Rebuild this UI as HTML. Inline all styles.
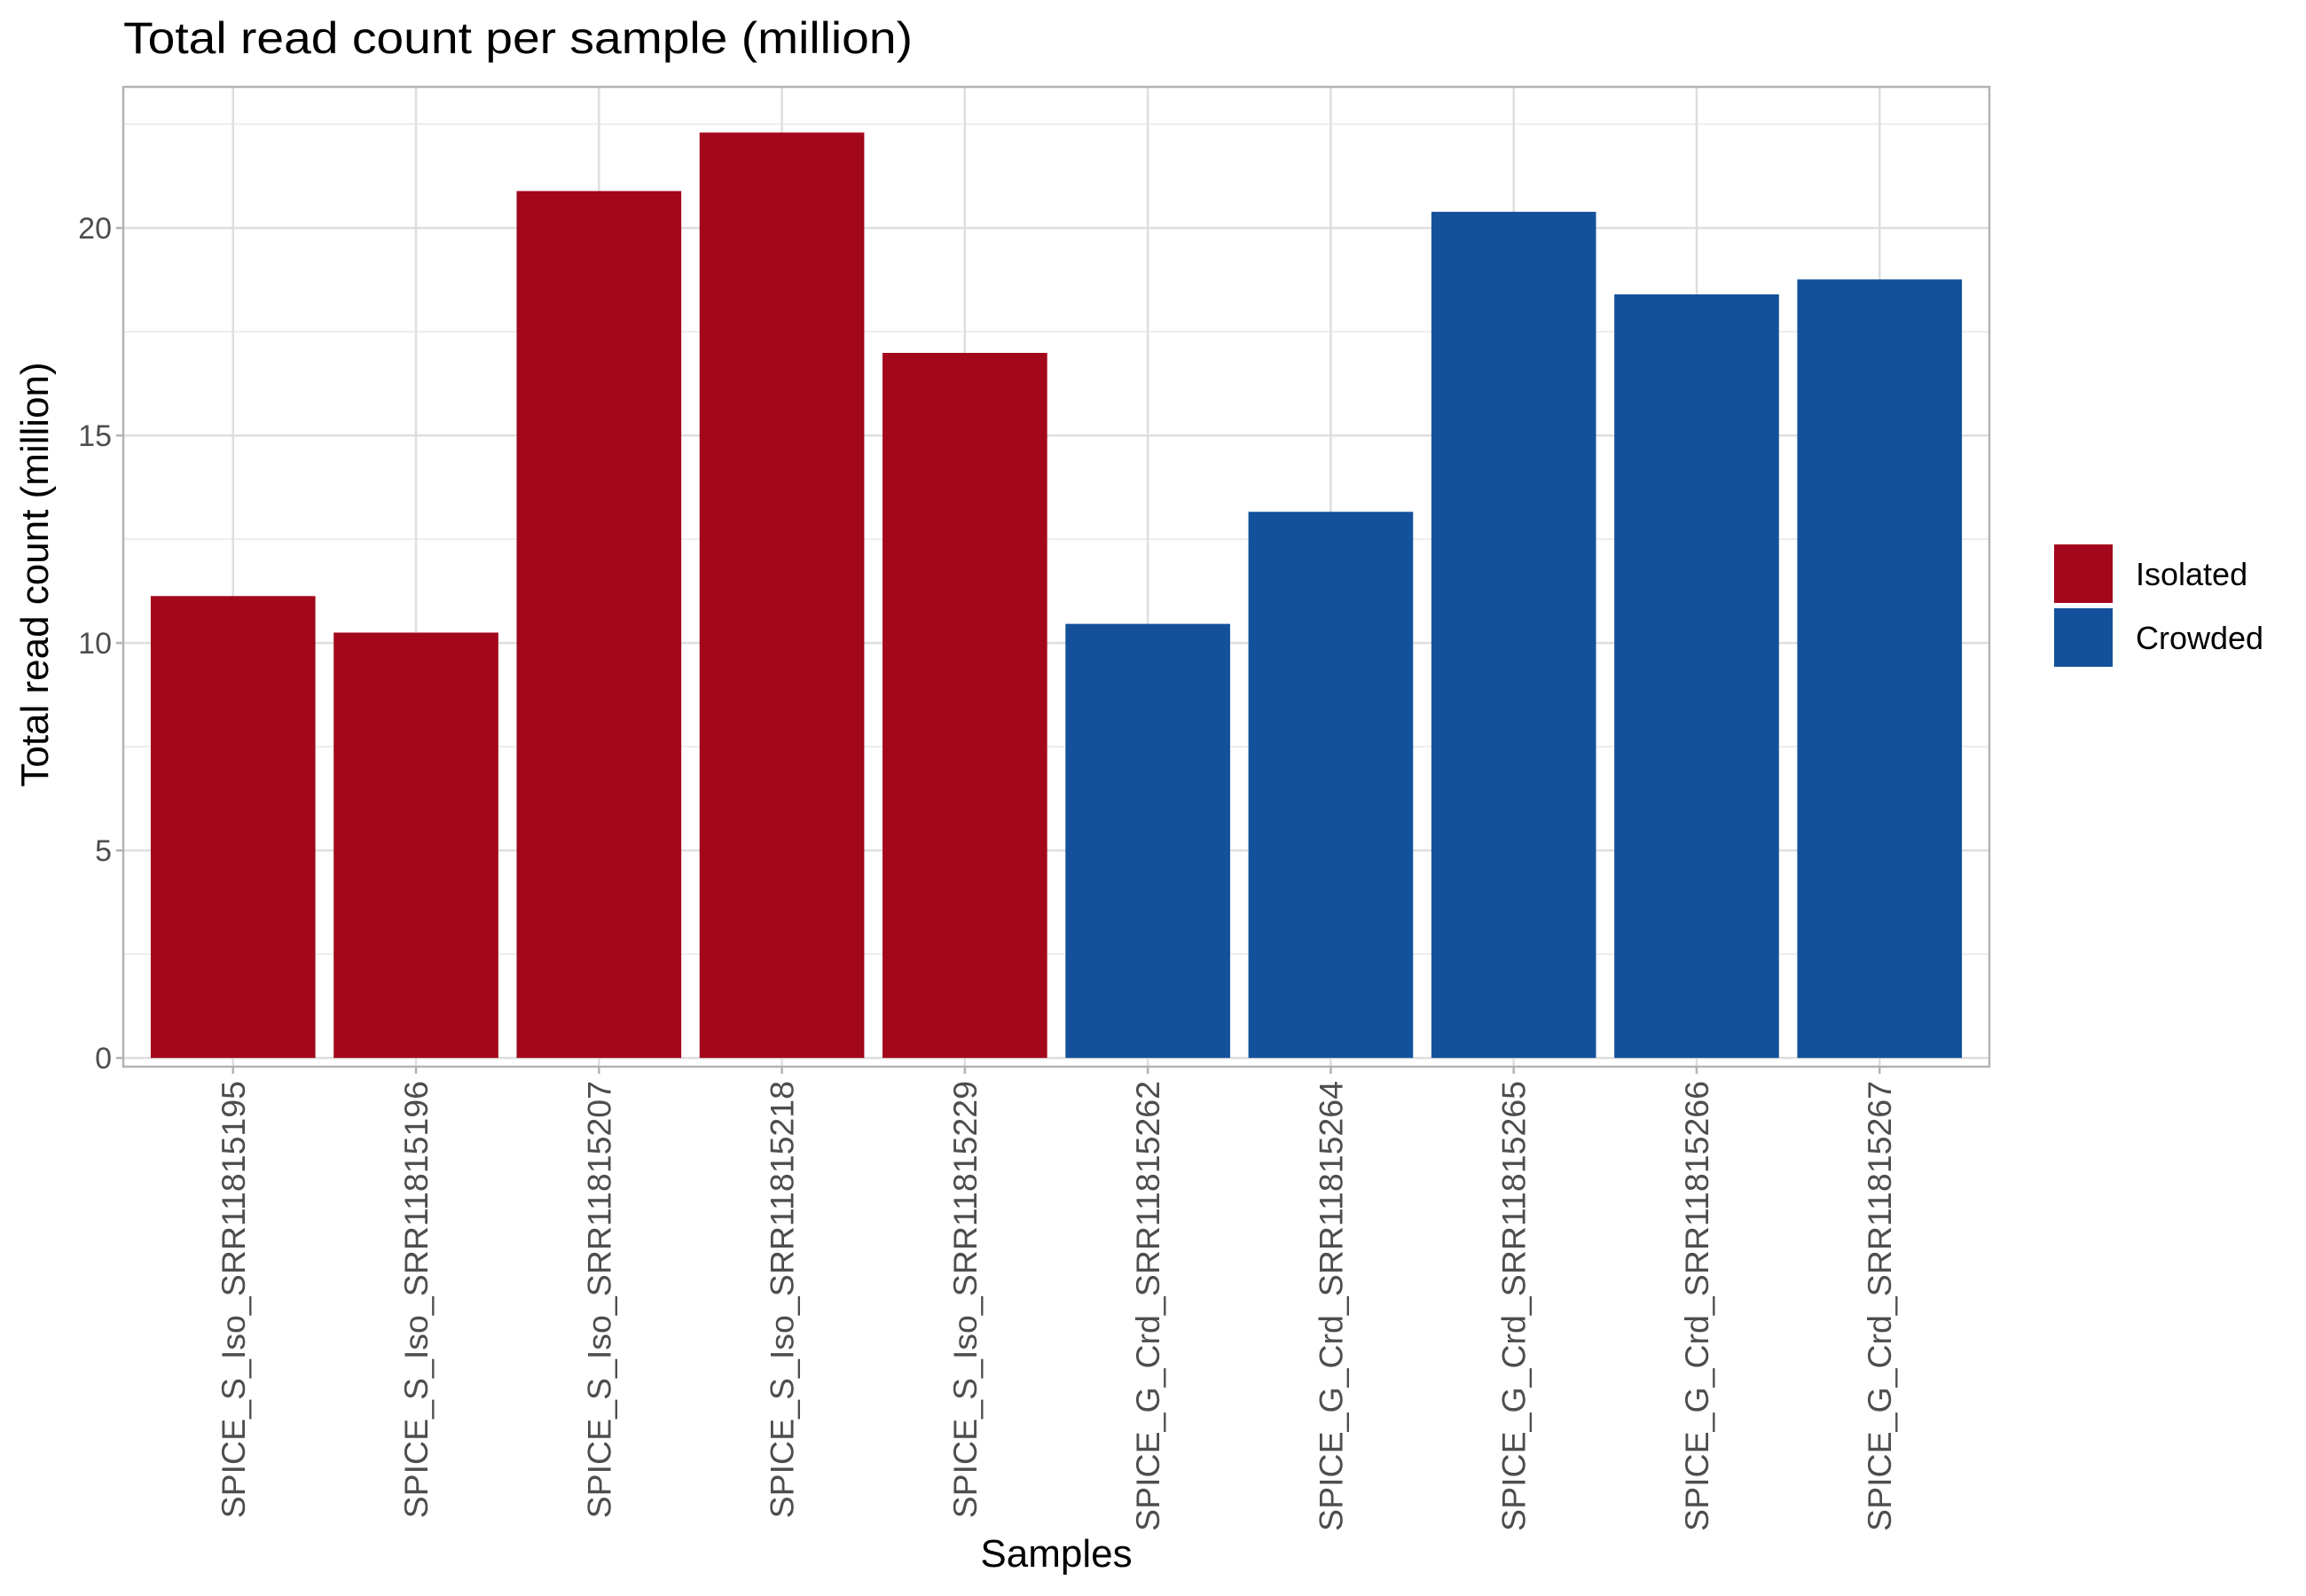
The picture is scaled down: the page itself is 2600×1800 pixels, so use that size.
<!DOCTYPE html>
<html><head><meta charset="utf-8"><style>body{margin:0;background:#fff}svg{display:block}text{font-family:"Liberation Sans",Arial,sans-serif}</style></head>
<body>
<svg id="chart" width="2600" height="1800" viewBox="0 0 2600 1800" xmlns="http://www.w3.org/2000/svg">
<rect width="2600" height="1800" fill="#fff"/>
<text x="139" y="60" font-size="50" fill="#000" textLength="890" lengthAdjust="spacingAndGlyphs">Total read count per sample (million)</text>
<g id="grid"></g><g id="bars"></g><g id="axes"></g>
<text x="1191" y="1767" font-size="44" text-anchor="middle" fill="#000">Samples</text>
<text transform="translate(54,648) rotate(-90)" font-size="44" text-anchor="middle" fill="#000">Total read count (million)</text>
<g>
<rect x="2316" y="614" width="66" height="66" fill="#A3071B"/>
<text x="2408" y="660" font-size="36" fill="#000">Isolated</text>
<rect x="2316" y="686" width="66" height="66" fill="#13519B"/>
<text x="2408" y="732" font-size="36" fill="#000">Crowded</text>
</g>
</svg>
<script>
const categories=["SPICE_S_Iso_SRR11815195","SPICE_S_Iso_SRR11815196","SPICE_S_Iso_SRR11815207","SPICE_S_Iso_SRR11815218","SPICE_S_Iso_SRR11815229","SPICE_G_Crd_SRR11815262","SPICE_G_Crd_SRR11815264","SPICE_G_Crd_SRR11815265","SPICE_G_Crd_SRR11815266","SPICE_G_Crd_SRR11815267"];
const values=[11.13,10.25,20.89,22.3,16.99,10.46,13.16,20.39,18.40,18.76];
const groups=["Isolated","Isolated","Isolated","Isolated","Isolated","Crowded","Crowded","Crowded","Crowded","Crowded"];
const yTicks=[0,5,10,15,20];
const yTickLabels=["0","5","10","15","20"];
const NS="http://www.w3.org/2000/svg";
const L=139,R=2243,T=98,B=1203;
const ylo=-0.21,yhi=23.4;
const y=v=>B-(v-ylo)/(yhi-ylo)*(B-T);
const step=(R-L)/(categories.length-1+1.2);
const x=i=>L+step*(0.6+i);
const colors={Isolated:"#A3071B",Crowded:"#13519B"};
function mk(tag,attrs,parent){const e=document.createElementNS(NS,tag);for(const k in attrs)e.setAttribute(k,attrs[k]);parent.appendChild(e);return e;}
const grid=document.getElementById('grid'),bars=document.getElementById('bars'),axes=document.getElementById('axes');
mk('rect',{x:L,y:T,width:R-L,height:B-T,fill:'#fff'},grid);
for(let i=0;i<yTicks.length;i++){const m=yTicks[i]+2.5;if(y(m)>T){const g=mk('line',{x1:L,x2:R,y1:y(m),y2:y(m),stroke:'#EDEDED','stroke-width':2},grid);}}
yTicks.forEach((t,i)=>{const g=mk('line',{x1:L,x2:R,y1:y(t),y2:y(t),stroke:'#DEDEDE','stroke-width':2.5},grid);
const tk=mk('line',{x1:L-8,x2:L,y1:y(t),y2:y(t),stroke:'#B3B3B3','stroke-width':2.5},axes);
const tx=mk('text',{x:L-13,y:y(t)+12,'font-size':34,'text-anchor':'end',fill:'#4D4D4D'},axes);tx.textContent=yTickLabels[i];});
categories.forEach((c,i)=>{const g=mk('line',{x1:x(i),x2:x(i),y1:T,y2:B,stroke:'#DEDEDE','stroke-width':2.5},grid);});
categories.forEach((c,i)=>{const w=step*0.9;const b=mk('rect',{x:x(i)-w/2,y:y(values[i]),width:w,height:y(0)-y(values[i]),fill:colors[groups[i]]},bars);
const tk=mk('line',{x1:x(i),x2:x(i),y1:B,y2:B+8,stroke:'#B3B3B3','stroke-width':2.5},axes);
const tx=mk('text',{transform:`translate(${x(i)+13},1219) rotate(-90)`,'font-size':37.5,'text-anchor':'end',fill:'#4D4D4D'},axes);tx.textContent=c;});
const br=mk('rect',{x:L,y:T,width:R-L,height:B-T,fill:'none',stroke:'#B3B3B3','stroke-width':2.5},axes);
</script>
</body></html>
